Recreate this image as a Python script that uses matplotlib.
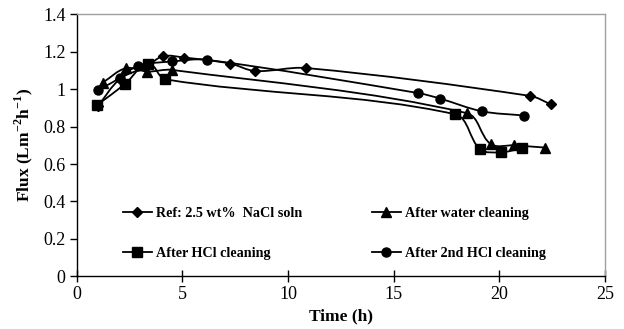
import numpy as np
import matplotlib
matplotlib.use("Agg")
import matplotlib.pyplot as plt
from matplotlib.path import Path
from matplotlib.patches import PathPatch
from matplotlib.lines import Line2D

plt.rcParams['font.family'] = ['Liberation Serif', 'DejaVu Serif']
plt.rcParams['mathtext.fontset'] = 'custom'
plt.rcParams['mathtext.rm'] = 'Liberation Serif:bold'
plt.rcParams['mathtext.bf'] = 'Liberation Serif:bold'

# Data
ref_x = [1.0, 2.05, 3.3, 4.07, 5.09, 7.26, 8.44, 10.86, 21.46, 22.44]
ref_y = [0.91, 1.055, 1.12, 1.176, 1.169, 1.137, 1.097, 1.113, 0.964, 0.919]

water_x = [1.23, 2.32, 3.34, 4.5, 18.46, 19.59, 20.7, 22.16]
water_y = [1.035, 1.112, 1.094, 1.103, 0.872, 0.707, 0.70, 0.688]

hcl_x = [0.97, 2.29, 3.39, 4.18, 17.9, 19.09, 20.08, 21.06]
hcl_y = [0.916, 1.028, 1.135, 1.053, 0.866, 0.679, 0.663, 0.684]

hcl2_x = [1.02, 2.05, 2.89, 4.53, 6.15, 16.17, 17.19, 19.17, 21.18]
hcl2_y = [0.996, 1.06, 1.125, 1.148, 1.157, 0.979, 0.95, 0.882, 0.859]

labels = ["Ref: 2.5 wt%  NaCl soln", "After water cleaning",
          "After HCl cleaning", "After 2nd HCl cleaning"]

x_ticks = [0, 5, 10, 15, 20, 25]
y_ticks = [0, 0.2, 0.4, 0.6, 0.8, 1.0, 1.2, 1.4]
y_tick_labels = ["0", "0.2", "0.4", "0.6", "0.8", "1", "1.2", "1.4"]


def smooth_path(ax, x, y):
    # smooth curve computed in display space so tangents are well scaled
    disp = ax.transData.transform(np.column_stack([x, y]).astype(float))
    n = len(disp)
    tangents = []
    for i in range(n):
        a = disp[max(i - 1, 0)]
        b = disp[min(i + 1, n - 1)]
        d = b - a
        nd = np.hypot(*d)
        tangents.append(d / nd if nd > 0 else d)
    verts = [disp[0]]
    codes = [Path.MOVETO]
    for i in range(n - 1):
        p1, p2 = disp[i], disp[i + 1]
        L = np.hypot(*(p2 - p1)) / 3.0
        verts += [p1 + tangents[i] * L, p2 - tangents[i + 1] * L, p2]
        codes += [Path.CURVE4] * 3
    data = ax.transData.inverted().transform(np.array(verts))
    return Path(data, codes)


fig = plt.figure(figsize=(6.24, 3.29), dpi=100)
ax = fig.add_axes([0.123, 0.160, 0.8466, 0.7965])
ax.set_xlim(0, 25)
ax.set_ylim(0, 1.4)

series = [(ref_x, ref_y, 'D', 5.5), (water_x, water_y, '^', 7),
          (hcl_x, hcl_y, 's', 6.5), (hcl2_x, hcl2_y, 'o', 6.5)]
handles = []
for (xs, ys, m, ms), lab in zip(series, labels):
    patch = PathPatch(smooth_path(ax, xs, ys), facecolor='none',
                      edgecolor='black', lw=1.3, zorder=2)
    ax.add_patch(patch)
    ax.plot(xs, ys, linestyle='none', marker=m, markersize=ms, color='black',
            zorder=3)
    handles.append(Line2D([], [], color='black', lw=1.3, marker=m,
                          markersize=ms))

ax.set_xticks(x_ticks)
ax.set_xticklabels([str(t) for t in x_ticks])
ax.set_yticks(y_ticks)
ax.set_yticklabels(y_tick_labels)
ax.tick_params(axis='both', labelsize=13, colors='black')
ax.tick_params(axis='y', direction='out', length=5, width=1, pad=3)
ax.tick_params(axis='x', direction='inout', length=8, width=1, pad=3)

for s in ['top', 'right']:
    ax.spines[s].set_color('#a0a0a0')
    ax.spines[s].set_linewidth(1.0)
for s in ['left', 'bottom']:
    ax.spines[s].set_color('black')
    ax.spines[s].set_linewidth(1.0)

ax.set_xlabel('Time (h)', fontsize=12.5, fontweight='bold', labelpad=4)
ax.set_ylabel(r'Flux (Lm$^{\mathbf{-2}}$h$^{\mathbf{-1}}$)', fontsize=12.5,
              fontweight='bold', labelpad=6)

leg_kw = dict(frameon=False, loc='center left', borderaxespad=0, borderpad=0,
              handlelength=2.0, handletextpad=0.3, labelspacing=1.95,
              bbox_transform=fig.transFigure,
              prop={'family': 'Liberation Serif', 'weight': 'bold', 'size': 10.2})
leg1 = ax.legend([handles[0], handles[2]], [labels[0], labels[2]],
                 bbox_to_anchor=(0.1976, 0.2903), **leg_kw)
ax.add_artist(leg1)
leg2 = ax.legend([handles[1], handles[3]], [labels[1], labels[3]],
                 bbox_to_anchor=(0.5966, 0.2903), **leg_kw)

fig.savefig('out.png', dpi=100)
